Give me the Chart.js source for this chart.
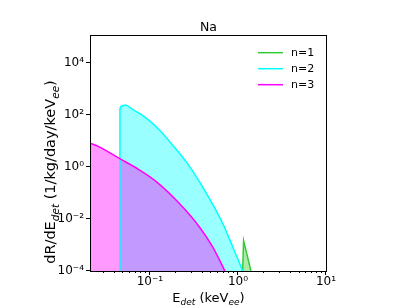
<!DOCTYPE html>
<html>
<head>
<meta charset="utf-8">
<script src="https://cdn.jsdelivr.net/npm/chart.js@4.4.1/dist/chart.umd.min.js"></script>
<style>
  html, body { margin: 0; padding: 0; background: #fff; }
  #wrap { width: 407px; height: 305px; }
</style>
</head>
<body>
<div id="wrap"><canvas id="naChart" width="407" height="305"></canvas></div>
<script>
// energies (keVee) and rates
const energyN1 = [1.13, 1.158, 1.405];
const rateN1 = [1e-4, 1.46e-3, 1e-4];

const energyN2 = [0.0456, 0.04561, 0.0479, 0.0524, 0.0634, 0.0861, 0.122, 0.1806, 0.2797, 0.433, 0.668, 0.868, 1.081, 1.127];
const rateN2 = [1e-4, 170, 222, 243, 166, 87.5, 31.6, 7.0, 1.09, 0.1045, 0.00702, 8.76e-4, 1.46e-4, 1e-4];

const energyN3 = [0.0214, 0.0265, 0.0448, 0.0755, 0.117, 0.215, 0.363, 0.514, 0.711];
const rateN3 = [8.1, 6.0, 2.16, 0.78, 0.28, 0.0402, 0.00506, 8.6e-4, 1e-4];

const seriesLabels = ['n=1', 'n=2', 'n=3'];
const seriesColors = ['#32cd32', '#00ffff', '#ff00ff'];
const seriesFills = ['rgba(50,205,50,0.4)', 'rgba(0,255,255,0.4)', 'rgba(255,0,255,0.4)'];

const xMajorTicks = [0.1, 1, 10];
const xTickLabels = ['10\u207b\u00b9', '10\u2070', '10\u00b9'];
const yMajorTicks = [1e-4, 1e-2, 1, 1e2, 1e4];
const yTickLabels = ['10\u207b\u2074', '10\u207b\u00b2', '10\u2070', '10\u00b2', '10\u2074'];

const FONT = "'DejaVu Sans', sans-serif";

function toPoints(xs, ys) {
    return xs.map((x, i) => ({ x: x, y: ys[i] }));
}

// minor ticks on the x axis: 2..9 in each decade
const xMinorTicks = [];
[0.01, 0.1, 1].forEach(d => {
    for (let k = 2; k <= 9; k++) xMinorTicks.push(k * d);
});

// draw text made of pieces (sub/superscripts)
function drawPieces(ctx, pieces, x, y) {
    let cx = x;
    pieces.forEach(p => {
        ctx.font = (p.italic ? 'italic ' : '') + p.size + 'px ' + FONT;
        ctx.fillText(p.t, cx, y + (p.dy || 0));
        cx += ctx.measureText(p.t).width;
    });
    return cx - x;
}
function piecesWidth(ctx, pieces) {
    let w = 0;
    pieces.forEach(p => {
        ctx.font = (p.italic ? 'italic ' : '') + p.size + 'px ' + FONT;
        w += ctx.measureText(p.t).width;
    });
    return w;
}

const decorPlugin = {
    id: 'decor',
    afterDraw(chart) {
        const ctx = chart.ctx;
        const a = chart.chartArea;
        const xs = chart.scales.x, ys = chart.scales.y;
        ctx.save();
        ctx.strokeStyle = '#000';
        ctx.fillStyle = '#000';

        // frame
        ctx.lineWidth = 1;
        ctx.strokeRect(a.left - 0.5, a.top - 0.5, a.right - a.left + 1, a.bottom - a.top + 1);

        // tick marks
        ctx.beginPath();
        xMajorTicks.forEach(v => {
            const px = Math.round(xs.getPixelForValue(v)) - 0.5;
            ctx.moveTo(px, a.bottom); ctx.lineTo(px, a.bottom + 4);
        });
        xMinorTicks.forEach(v => {
            if (v < xs.min || v > xs.max) return;
            const px = Math.round(xs.getPixelForValue(v)) - 0.5;
            ctx.moveTo(px, a.bottom); ctx.lineTo(px, a.bottom + 2);
        });
        yMajorTicks.forEach(v => {
            const py = Math.round(ys.getPixelForValue(v)) - 0.5;
            ctx.moveTo(a.left - 1, py); ctx.lineTo(a.left - 5, py);
        });
        ctx.stroke();

        // title
        ctx.textAlign = 'center';
        ctx.textBaseline = 'alphabetic';
        ctx.font = '12.5px ' + FONT;
        ctx.fillText('Na', (a.left + a.right) / 2, 31);

        // x axis title
        ctx.textAlign = 'left';
        const xt = [
            { t: 'E', size: 13 },
            { t: 'det', size: 9, italic: true, dy: 3 },
            { t: ' (keV', size: 13 },
            { t: 'ee', size: 9, italic: true, dy: 3 },
            { t: ')', size: 13 }
        ];
        const xw = piecesWidth(ctx, xt);
        drawPieces(ctx, xt, (a.left + a.right) / 2 - xw / 2, 301.5);

        // y axis title
        const yt = [
            { t: 'dR/dE', size: 14.5 },
            { t: 'det', size: 10.5, italic: true, dy: 3.5 },
            { t: ' (1/kg/day/keV', size: 14.5 },
            { t: 'ee', size: 10.5, italic: true, dy: 3.5 },
            { t: ')', size: 14.5 }
        ];
        const yw = piecesWidth(ctx, yt);
        ctx.translate(55, 172 + yw / 2);
        ctx.rotate(-Math.PI / 2);
        drawPieces(ctx, yt, 0, 0);
        ctx.restore();

        // legend
        ctx.save();
        ctx.font = '11px ' + FONT;
        ctx.textBaseline = 'middle';
        ctx.textAlign = 'left';
        chart.data.datasets.forEach((ds, i) => {
            const ly = 52.7 + i * 16;
            ctx.strokeStyle = ds.borderColor;
            ctx.lineWidth = 1.5;
            ctx.beginPath();
            ctx.moveTo(258, ly); ctx.lineTo(283, ly);
            ctx.stroke();
            ctx.fillStyle = '#000';
            ctx.fillText(ds.label, 291, ly + 0.5);
        });
        ctx.restore();
    }
};

const ctx = document.getElementById('naChart').getContext('2d');
const seriesData = [
    toPoints(energyN1, rateN1),
    toPoints(energyN2, rateN2),
    toPoints(energyN3, rateN3)
];

const naChart = new Chart(ctx, {
    type: 'line',
    data: {
        datasets: seriesData.map((d, i) => ({
            label: seriesLabels[i],
            data: d,
            borderColor: seriesColors[i],
            backgroundColor: seriesFills[i],
            borderWidth: 1.5,
            pointRadius: 0,
            cubicInterpolationMode: i === 0 ? 'default' : 'monotone',
            tension: 0,
            fill: 'start',
            order: 2 - i
        }))
    },
    options: {
        responsive: false,
        animation: false,
        layout: { padding: { top: 36, right: 81, left: 0, bottom: 0 } },
        plugins: {
            legend: { display: false },
            title: { display: false },
            tooltip: { enabled: false },
            filler: { drawTime: 'beforeDatasetsDraw' }
        },
        scales: {
            x: {
                type: 'logarithmic',
                min: 0.0214,
                max: 10,
                grid: { display: false, drawTicks: false },
                border: { display: false },
                ticks: {
                    autoSkip: false,
                    maxRotation: 0,
                    padding: 4,
                    color: '#000',
                    font: { family: FONT, size: 12 },
                    callback: (v, i) => xTickLabels[i]
                },
                afterBuildTicks: s => { s.ticks = xMajorTicks.map(v => ({ value: v })); },
                afterFit: s => { s.height = 34; }
            },
            y: {
                type: 'logarithmic',
                min: 1e-4,
                max: 1.1e5,
                grid: { display: false, drawTicks: false },
                border: { display: false },
                ticks: {
                    autoSkip: false,
                    padding: 7,
                    color: '#000',
                    font: { family: FONT, size: 12 },
                    callback: (v, i) => yTickLabels[i]
                },
                afterBuildTicks: s => { s.ticks = yMajorTicks.map(v => ({ value: v })); },
                afterFit: s => { s.width = 91; }
            }
        }
    },
    plugins: [decorPlugin]
});
</script>
</body>
</html>
